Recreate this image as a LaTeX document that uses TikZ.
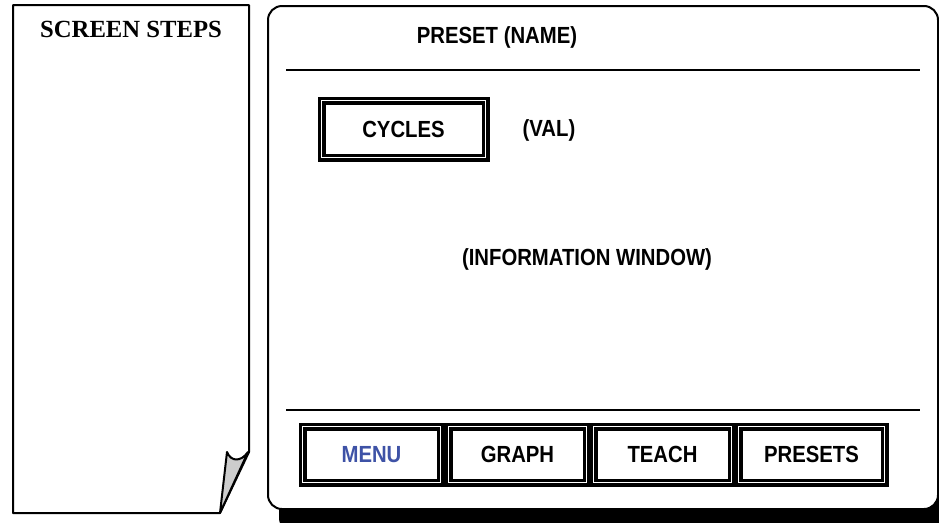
\documentclass[tikz,border=0pt]{standalone}
\usepackage{fontspec}
\setmainfont{Liberation Serif}
\newfontfamily\narrowsans{Liberation Sans}[FakeStretch=0.87]
\usepackage{tikz}
\definecolor{menublue}{RGB}{62,82,166}
\newcommand{\lbl}       {\narrowsans\bfseries\fontsize{17.5}{20}\selectfont}
\newcommand{\hdr}       {\rmfamily\bfseries\fontsize{18.5}{22}\selectfont}
\tikzset{btn/.style={draw,double,line width=2.6pt,double distance=0.8pt,
    minimum width=103.5pt,minimum height=42pt,inner sep=0pt,font=\lbl}}

\begin{document}
\begin{tikzpicture}[x=0.75pt,y=-0.75pt]
     \useasboundingbox (0,0) rectangle (939,522);
     \clip (0,0) rectangle (939,522);
     % steps sheet with curled corner
     \filldraw[fill=white,draw=black,line width=1.5pt,line join=round]
       (13,5) -- (249,5) -- (249,452) -- (220,513) -- (13,513) -- cycle;
     \filldraw[fill=gray!40,draw=black,line width=1.5pt,line join=round]
       (227,452) .. controls (231,462) and (241,462) .. (248,452) -- (220,513) -- cycle;
     \node[font=\hdr] (steps) at (131,29) {SCREEN STEPS};
     % screen
     \fill[black,rounded corners=10.5pt] (279,18) rectangle (952,532);
     \filldraw[fill=white,draw=black,line width=1.5pt,rounded corners=10.5pt]
       (268,6) rectangle (938,509);
     \draw[line width=1.5pt] (286,70) -- (920,70);
     \draw[line width=1.5pt] (286,410) -- (920,410);
     \node[font=\lbl] (title) at (497,37) {PRESET (NAME)};
     \node[btn,minimum width=123pt,minimum height=42.75pt] (cycles) at (403.5,129) {CYCLES};
     \node[font=\lbl] (val) at (549,130) {(VAL)};
     \node[font=\lbl] (info) at (587,259) {(INFORMATION WINDOW)};
     % soft keys
     \node[btn,text=menublue] (menu) at (371.5,454.5) {MENU};
     \node[btn] (graph) at (517.5,454.5) {GRAPH};
     \node[btn] (teach) at (662.5,454.5) {TEACH};
     \node[btn,minimum width=109.5pt] (presets) at (811.5,454.5) {PRESETS};
    \end{tikzpicture}
\end{document}
